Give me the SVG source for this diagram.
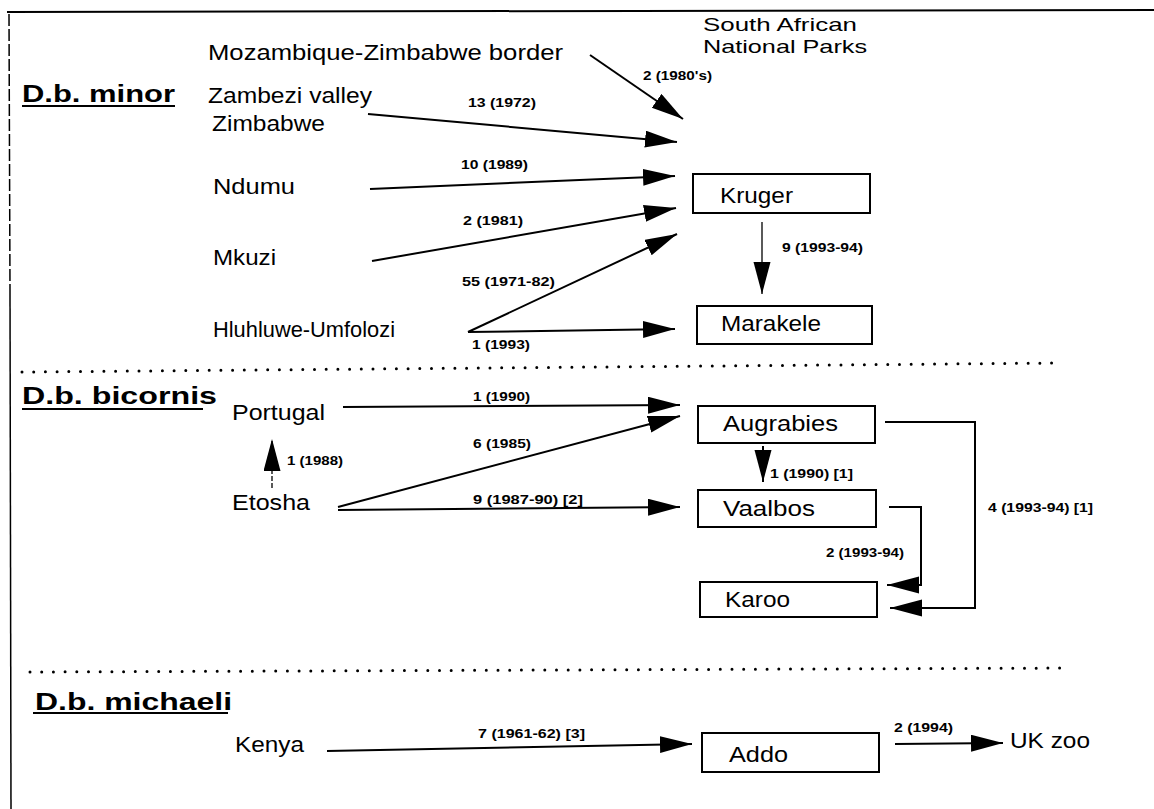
<svg xmlns="http://www.w3.org/2000/svg" width="1154" height="809" viewBox="0 0 1154 809">
<style>
  .lbl { font-family: "Liberation Sans", Arial, sans-serif; font-size: 22px; fill: #000; }
  .hdr { font-family: "Liberation Sans", Arial, sans-serif; font-size: 19px; fill: #000; }
  .head { font-family: "Liberation Sans", Arial, sans-serif; font-size: 23px; font-weight: bold; fill: #000; }
  .sm { font-family: "Liberation Sans", Arial, sans-serif; font-size: 12.5px; font-weight: bold; fill: #000; }
  .box { fill: #fff; stroke: #000; stroke-width: 2; }
  .con { fill: none; stroke: #000; stroke-width: 2; }
  .thin { fill: none; stroke: #000; stroke-width: 1.3; }
  .dots { fill: none; stroke: #000; stroke-width: 3; stroke-linecap: round; stroke-dasharray: 0 11.7; }
  .ul { stroke: #000; stroke-width: 2; }
</style>
<defs>
  <marker id="ah" markerUnits="userSpaceOnUse" markerWidth="33" markerHeight="18" refX="32" refY="8.5" orient="auto">
    <path d="M0,0 L32,8.5 L0,17 z" fill="#000"/>
  </marker>
</defs>
<rect x="0" y="0" width="1154" height="809" fill="#fff"/>

<g id="frame">
  <path d="M7,12 L1154,10" stroke="#000" stroke-width="2" fill="none"/>
  <path d="M9,14 L10,290" stroke="#000" stroke-width="1.5" fill="none" stroke-dasharray="12 3"/>
  <path d="M10,290 L11,809" stroke="#000" stroke-width="1.5" fill="none"/>
  <path class="dots" d="M22,372 L1058,363"/>
  <path class="dots" d="M30,672 L1070,668"/>
</g>

<g id="headings">
  <text class="head" x="22" y="102" textLength="153" lengthAdjust="spacingAndGlyphs">D.b. minor</text>
  <line class="ul" x1="22" y1="106" x2="175" y2="106"/>
  <text class="head" x="22" y="404" textLength="195" lengthAdjust="spacingAndGlyphs">D.b. bicornis</text>
  <line class="ul" x1="22" y1="409" x2="203" y2="409"/>
  <text class="head" x="35" y="710" textLength="197" lengthAdjust="spacingAndGlyphs">D.b. michaeli</text>
  <line class="ul" x1="33" y1="713" x2="228" y2="713"/>
  <text class="hdr" x="703" y="31" textLength="154" lengthAdjust="spacingAndGlyphs">South African</text>
  <text class="hdr" x="703" y="52.5" textLength="164" lengthAdjust="spacingAndGlyphs">National Parks</text>
</g>

<g id="connectors">
  <path class="con" d="M590,55 L683,119" marker-end="url(#ah)"/>
  <path class="con" d="M368,114 L677,142" marker-end="url(#ah)"/>
  <path class="con" d="M370,189 L675,176" marker-end="url(#ah)"/>
  <path class="con" d="M372,261 L676,208" marker-end="url(#ah)"/>
  <path class="con" d="M468,332 L677,234" marker-end="url(#ah)"/>
  <path class="con" d="M468,332 L675,329" marker-end="url(#ah)"/>
  <path class="thin" d="M762,222 L762,294" marker-end="url(#ah)"/>
  <path class="con" d="M343,407 L680,405" marker-end="url(#ah)"/>
  <path class="con" d="M338,507 L680,416" marker-end="url(#ah)"/>
  <path class="con" d="M338,510 L680,507" marker-end="url(#ah)"/>
  <path class="thin" d="M272,488 L272,439" stroke-dasharray="5 2" marker-end="url(#ah)"/>
  <path class="con" d="M763,446 L763,482" marker-end="url(#ah)"/>
  <path class="con" d="M885,422 H975 V608 H890" marker-end="url(#ah)"/>
  <path class="con" d="M889,507 H921 V585 H887" marker-end="url(#ah)"/>
  <path class="con" d="M327,751 L692,744" marker-end="url(#ah)"/>
  <path class="con" d="M895,744 L1003,743" marker-end="url(#ah)"/>

  <text class="sm" x="643" y="80" textLength="69" lengthAdjust="spacingAndGlyphs">2 (1980's)</text>
  <text class="sm" x="468" y="107" textLength="68" lengthAdjust="spacingAndGlyphs">13 (1972)</text>
  <text class="sm" x="461" y="169" textLength="67" lengthAdjust="spacingAndGlyphs">10 (1989)</text>
  <text class="sm" x="463" y="225" textLength="60" lengthAdjust="spacingAndGlyphs">2 (1981)</text>
  <text class="sm" x="462" y="286" textLength="93" lengthAdjust="spacingAndGlyphs">55 (1971-82)</text>
  <text class="sm" x="472" y="349" textLength="58" lengthAdjust="spacingAndGlyphs">1 (1993)</text>
  <text class="sm" x="782" y="252" textLength="81" lengthAdjust="spacingAndGlyphs">9 (1993-94)</text>
  <text class="sm" x="473" y="401" textLength="57" lengthAdjust="spacingAndGlyphs">1 (1990)</text>
  <text class="sm" x="473" y="448" textLength="58" lengthAdjust="spacingAndGlyphs">6 (1985)</text>
  <text class="sm" x="473" y="504" textLength="110" lengthAdjust="spacingAndGlyphs">9 (1987-90) [2]</text>
  <text class="sm" x="287" y="465" textLength="56" lengthAdjust="spacingAndGlyphs">1 (1988)</text>
  <text class="sm" x="770" y="478" textLength="83" lengthAdjust="spacingAndGlyphs">1 (1990) [1]</text>
  <text class="sm" x="988" y="512" textLength="105" lengthAdjust="spacingAndGlyphs">4 (1993-94) [1]</text>
  <text class="sm" x="826" y="557" textLength="78" lengthAdjust="spacingAndGlyphs">2 (1993-94)</text>
  <text class="sm" x="478" y="738" textLength="107" lengthAdjust="spacingAndGlyphs">7 (1961-62) [3]</text>
  <text class="sm" x="894" y="732" textLength="59" lengthAdjust="spacingAndGlyphs">2 (1994)</text>
</g>

<g id="mozambique"><text class="lbl" x="208" y="60" textLength="355" lengthAdjust="spacingAndGlyphs">Mozambique-Zimbabwe border</text></g>
<g id="zambezi">
  <text class="lbl" x="208" y="103" textLength="164" lengthAdjust="spacingAndGlyphs">Zambezi valley</text>
  <text class="lbl" x="212" y="131" textLength="113" lengthAdjust="spacingAndGlyphs">Zimbabwe</text>
</g>
<g id="ndumu"><text class="lbl" x="213" y="194" textLength="82" lengthAdjust="spacingAndGlyphs">Ndumu</text></g>
<g id="mkuzi"><text class="lbl" x="213" y="265" textLength="63" lengthAdjust="spacingAndGlyphs">Mkuzi</text></g>
<g id="hluhluwe"><text class="lbl" x="213" y="337" textLength="182" lengthAdjust="spacingAndGlyphs">Hluhluwe-Umfolozi</text></g>
<g id="portugal"><text class="lbl" x="232" y="420" textLength="93" lengthAdjust="spacingAndGlyphs">Portugal</text></g>
<g id="etosha"><text class="lbl" x="232" y="510" textLength="78" lengthAdjust="spacingAndGlyphs">Etosha</text></g>
<g id="kenya"><text class="lbl" x="235" y="752" textLength="69" lengthAdjust="spacingAndGlyphs">Kenya</text></g>
<g id="ukzoo"><text class="lbl" x="1010" y="748" textLength="80" lengthAdjust="spacingAndGlyphs">UK zoo</text></g>

<g id="kruger">
  <rect class="box" x="693" y="174" width="177" height="39"/>
  <text class="lbl" x="720" y="203" textLength="73" lengthAdjust="spacingAndGlyphs">Kruger</text>
</g>
<g id="marakele">
  <rect class="box" x="697" y="306" width="175" height="38"/>
  <text class="lbl" x="721" y="331" textLength="100" lengthAdjust="spacingAndGlyphs">Marakele</text>
</g>
<g id="augrabies">
  <rect class="box" x="698" y="406" width="177" height="37"/>
  <text class="lbl" x="723" y="431" textLength="115" lengthAdjust="spacingAndGlyphs">Augrabies</text>
</g>
<g id="vaalbos">
  <rect class="box" x="698" y="490" width="178" height="37"/>
  <text class="lbl" x="723" y="516" textLength="92" lengthAdjust="spacingAndGlyphs">Vaalbos</text>
</g>
<g id="karoo">
  <rect class="box" x="700" y="582" width="177" height="35"/>
  <text class="lbl" x="725" y="607" textLength="65" lengthAdjust="spacingAndGlyphs">Karoo</text>
</g>
<g id="addo">
  <rect class="box" x="702" y="733" width="177" height="39"/>
  <text class="lbl" x="729" y="762" textLength="59" lengthAdjust="spacingAndGlyphs">Addo</text>
</g>
</svg>
